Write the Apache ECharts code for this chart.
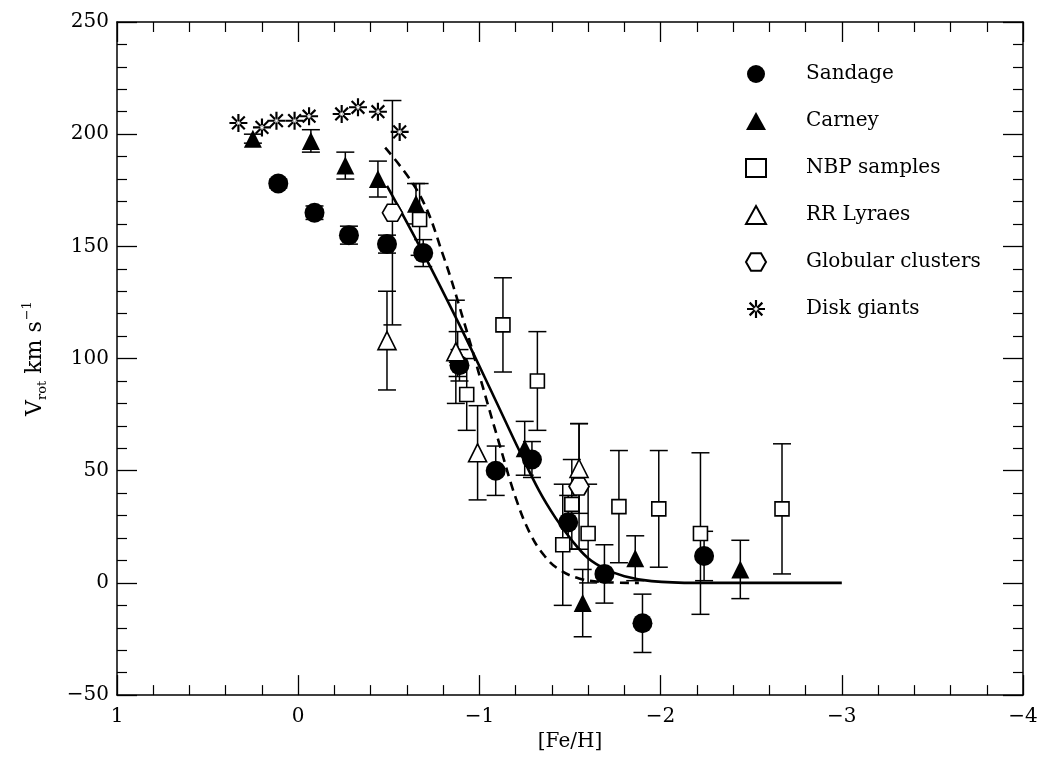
<!DOCTYPE html>
<html>
<head>
<meta charset="utf-8">
<script src="https://cdn.jsdelivr.net/npm/echarts@6/dist/echarts.min.js"></script>
<style>
  html, body { margin: 0; padding: 0; background: #fff; }
  #chart { width: 1041px; height: 757px; }
</style>
</head>
<body>
<div id="chart"></div>
<script>
// Sandage (filled circles)
const sandageFeH  = [0.11, -0.09, -0.28, -0.49, -0.69, -0.89, -1.09, -1.29, -1.49, -1.69, -1.90, -2.24];
const sandageVrot = [178, 165, 155, 151, 147, 97, 50, 55, 27, 4, -18, 12];
const sandageErr  = [2, 3, 4, 4, 6, 7, 11, 8, 12, 13, 13, 11];

// Carney (filled triangles)
const carneyFeH  = [0.25, -0.07, -0.26, -0.44, -0.65, -0.88, -1.25, -1.57, -1.86, -2.44];
const carneyVrot = [198, 197, 186, 180, 169, 102, 60, -9, 11, 6];
const carneyErr  = [2, 5, 6, 8, 9, 10, 12, 15, 10, 13];

// NBP samples (open squares)
const nbpFeH  = [-0.67, -0.93, -1.13, -1.32, -1.46, -1.51, -1.60, -1.77, -1.99, -2.22, -2.67];
const nbpVrot = [162, 84, 115, 90, 17, 35, 22, 34, 33, 22, 33];
const nbpErr  = [16, 16, 21, 22, 27, 20, 22, 25, 26, 36, 29];

// RR Lyraes (open triangles)
const rrFeH  = [-0.49, -0.87, -0.99, -1.55];
const rrVrot = [108, 103, 58, 51];
const rrErr  = [22, 23, 21, 20];

// Globular clusters (open hexagons)
const gcFeH  = [-0.52, -1.55];
const gcVrot = [165, 43];
const gcErr  = [50, 28];

// Disk giants (asterisks, no error bars)
const diskFeH  = [0.33, 0.20, 0.12, 0.02, -0.06, -0.24, -0.33, -0.44, -0.56];
const diskVrot = [205, 203, 206, 206, 208, 209, 212, 210, 201];

// model curves
const solidFeH  = [-0.49, -0.69, -0.89, -1.08, -1.22, -1.33, -1.42, -1.51, -1.60, -1.70, -1.80, -1.95, -2.2, -3.0];
const solidVrot = [177, 147, 115, 83, 59, 41, 29, 19, 11, 6, 3, 0.8, 0, 0];
const dashFeH   = [-0.48, -0.67, -0.80, -0.92, -1.02, -1.11, -1.20, -1.28, -1.36, -1.44, -1.55, -1.70, -1.88];
const dashVrot  = [194, 173, 146, 115, 87, 62, 38, 22, 12, 6, 2, 0.3, 0];

const xTicks = { min: -4, max: 1, interval: 1 };
const yTicks = { min: -50, max: 250, interval: 50 };

const FONT = "'DejaVu Serif', serif";
const hexagon = 'path://M-10,0 L-5,-8.66 L5,-8.66 L10,0 L5,8.66 L-5,8.66 Z';
const asterisk = 'path://M-1.2,-10 L1.2,-10 L1.2,10 L-1.2,10 Z M-10,-1.2 L10,-1.2 L10,1.2 L-10,1.2 Z ' +
  'M6.22,7.92 L7.92,6.22 L-6.22,-7.92 L-7.92,-6.22 Z M7.92,-6.22 L6.22,-7.92 L-7.92,6.22 L-6.22,7.92 Z';

function pts(xs, ys, es) {
    return xs.map((x, i) => es ? [x, ys[i], es[i]] : [x, ys[i]]);
}

// vertical error bar with caps
function renderErr(params, api) {
    const x = api.value(0), y = api.value(1), e = api.value(2);
    const hi = api.coord([x, y + e]);
    const lo = api.coord([x, y - e]);
    const w = 9;
    const st = { stroke: '#000', lineWidth: 1.5 };
    return {
        type: 'group',
        children: [
            { type: 'line', shape: { x1: hi[0], y1: hi[1], x2: lo[0], y2: lo[1] }, style: st },
            { type: 'line', shape: { x1: hi[0] - w, y1: hi[1], x2: hi[0] + w, y2: hi[1] }, style: st },
            { type: 'line', shape: { x1: lo[0] - w, y1: lo[1], x2: lo[0] + w, y2: lo[1] }, style: st }
        ]
    };
}

function errSeries(xs, ys, es) {
    return { type: 'custom', renderItem: renderErr, data: pts(xs, ys, es), z: 2, silent: true };
}

function minus(v) { return String(v).replace('-', '\u2212'); }

const axisCommon = {
    type: 'value',
    axisLine: { show: true, onZero: false, lineStyle: { color: '#000', width: 1.5 } },
    axisTick: { show: true, inside: true, length: 20, lineStyle: { color: '#000', width: 1.3 } },
    minorTick: { show: true, splitNumber: 5, length: 10, lineStyle: { color: '#000', width: 1.2 } },
    splitLine: { show: false },
    minorSplitLine: { show: false }
};

const chart = echarts.init(document.getElementById('chart'));

const option = {
    backgroundColor: '#fff',
    animation: false,
    grid: { left: 117, right: 18, top: 22, bottom: 56 },
    legend: {
        orient: 'vertical',
        left: 740,
        top: 59,
        itemWidth: 20,
        itemHeight: 18,
        itemGap: 27,
        textStyle: { fontFamily: FONT, fontSize: 20, color: '#000', lineHeight: 18, padding: [0, 0, 0, 35] },
        data: ['Sandage', 'Carney', 'NBP samples', 'RR Lyraes', 'Globular clusters', 'Disk giants']
    },
    xAxis: [
        Object.assign({}, axisCommon, {
            min: xTicks.min, max: xTicks.max, interval: xTicks.interval, inverse: true,
            position: 'bottom',
            name: '[Fe/H]', nameLocation: 'middle', nameGap: 34,
            nameTextStyle: { fontFamily: FONT, fontSize: 20, color: '#000' },
            axisLabel: { show: true, margin: 12, fontFamily: FONT, fontSize: 20, color: '#000', formatter: minus }
        }),
        Object.assign({}, axisCommon, {
            min: xTicks.min, max: xTicks.max, interval: xTicks.interval, inverse: true,
            position: 'top', axisLabel: { show: false }
        })
    ],
    yAxis: [
        Object.assign({}, axisCommon, {
            min: yTicks.min, max: yTicks.max, interval: yTicks.interval,
            position: 'left',
            name: '{v|V}{sub|rot}{v| km s}{sup|\u22121}',
            nameLocation: 'middle', nameGap: 66, nameRotate: 90,
            nameTextStyle: {
                color: '#000',
                rich: {
                    v: { fontFamily: FONT, fontSize: 22, color: '#000', lineHeight: 32, verticalAlign: 'middle' },
                    sub: { fontFamily: FONT, fontSize: 13, color: '#000', lineHeight: 32, verticalAlign: 'bottom', padding: [0, 0, 2, 0] },
                    sup: { fontFamily: FONT, fontSize: 13, color: '#000', lineHeight: 32, verticalAlign: 'top', padding: [2, 0, 0, 1] }
                }
            },
            axisLabel: { show: true, margin: 8, fontFamily: FONT, fontSize: 20, color: '#000', formatter: minus }
        }),
        Object.assign({}, axisCommon, {
            min: yTicks.min, max: yTicks.max, interval: yTicks.interval,
            position: 'right', axisLabel: { show: false }
        })
    ],
    series: [
        errSeries(sandageFeH, sandageVrot, sandageErr),
        errSeries(carneyFeH, carneyVrot, carneyErr),
        errSeries(nbpFeH, nbpVrot, nbpErr),
        errSeries(rrFeH, rrVrot, rrErr),
        errSeries(gcFeH, gcVrot, gcErr),
        {
            name: 'solid', type: 'line', data: pts(solidFeH, solidVrot), smooth: 0.4,
            showSymbol: false, z: 3, silent: true,
            lineStyle: { color: '#000', width: 2.6 }
        },
        {
            name: 'dashed', type: 'line', data: pts(dashFeH, dashVrot), smooth: 0.4,
            showSymbol: false, z: 3, silent: true,
            lineStyle: { color: '#000', width: 2.6, type: [9, 6] }
        },
        {
            name: 'NBP samples', type: 'scatter', data: pts(nbpFeH, nbpVrot), z: 4,
            symbol: 'rect', symbolSize: 14,
            itemStyle: { color: '#fff', borderColor: '#000', borderWidth: 1.6, opacity: 1 }
        },
        {
            name: 'Globular clusters', type: 'scatter', data: pts(gcFeH, gcVrot), z: 4,
            symbol: hexagon, symbolSize: [20, 17],
            itemStyle: { color: '#fff', borderColor: '#000', borderWidth: 1.6, opacity: 1 }
        },
        {
            name: 'Carney', type: 'scatter', data: pts(carneyFeH, carneyVrot), z: 5,
            symbol: 'triangle', symbolSize: 18,
            itemStyle: { color: '#000', opacity: 1 }
        },
        {
            name: 'RR Lyraes', type: 'scatter', data: pts(rrFeH, rrVrot), z: 6,
            symbol: 'triangle', symbolSize: 18,
            itemStyle: { color: '#fff', borderColor: '#000', borderWidth: 1.6, opacity: 1 }
        },
        {
            name: 'Sandage', type: 'scatter', data: pts(sandageFeH, sandageVrot), z: 5,
            symbol: 'circle', symbolSize: 20,
            itemStyle: { color: '#000', opacity: 1 }
        },
        {
            name: 'Disk giants', type: 'scatter', data: pts(diskFeH, diskVrot), z: 5,
            symbol: asterisk, symbolSize: 18,
            itemStyle: { color: '#000', opacity: 1 }
        }
    ]
};

chart.setOption(option);
</script>
</body>
</html>
